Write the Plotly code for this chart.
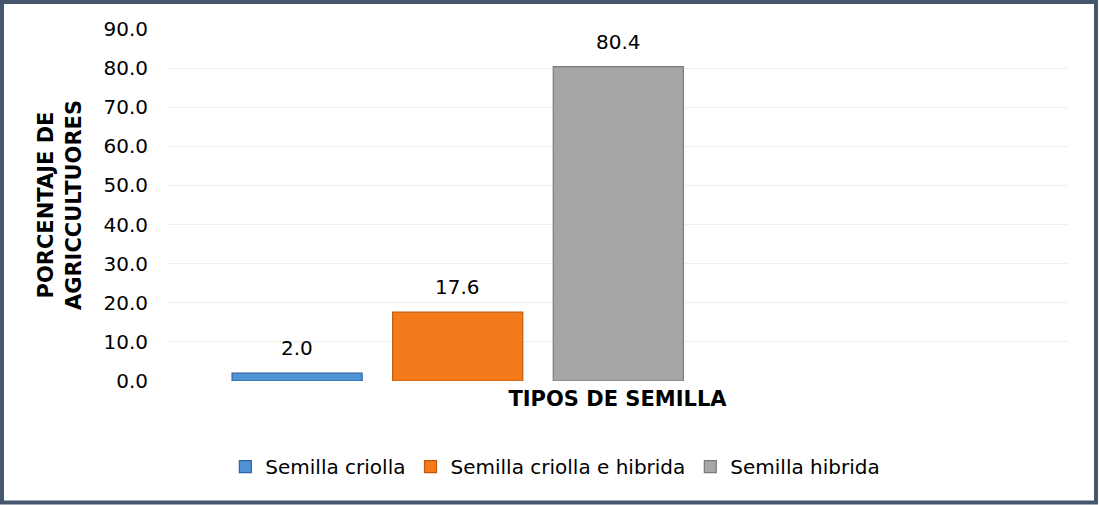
import plotly.graph_objects as go

# ── Data ─────────────────────────────────────────────────────────────────────
SERIES = ["Semilla criolla", "Semilla criolla e hibrida", "Semilla hibrida"]
VALUES = [2.0, 17.6, 80.4]
Y_TICKS = [0, 10, 20, 30, 40, 50, 60, 70, 80, 90]

# ── Style ────────────────────────────────────────────────────────────────────
FILLS = ["#4f93d6", "#f47b1c", "#a6a6a6"]
EDGES = ["#2f64a0", "#c05a0c", "#7a7a7a"]
BORDER = "#45566d"
GRID = "#efefef"
FONT = "DejaVu Sans, Arial, sans-serif"

fig = go.Figure()
for name, val, fill, edge in zip(SERIES, VALUES, FILLS, EDGES):
    fig.add_trace(go.Bar(
        x=[name], y=[val], name=name,
        width=0.81,
        marker=dict(color=fill, line=dict(color=edge, width=1.2)),
    ))
    fig.add_annotation(
        x=name, y=val, text=f"{val:.1f}",
        showarrow=False, yanchor="bottom", yshift=11,
        font=dict(family=FONT, size=20, color="#000000"),
    )

fig.update_layout(
    width=1099, height=505,
    paper_bgcolor="white", plot_bgcolor="white",
    font=dict(family=FONT, size=20, color="#000000"),
    margin=dict(l=167, r=31, t=29, b=124),
    barmode="overlay",
    showlegend=True,
    legend=dict(
        orientation="h",
        x=0.431, xanchor="center",
        y=-0.243, yanchor="middle",
        font=dict(family=FONT, size=20, color="#000000"),
        itemwidth=30,
        traceorder="normal",
    ),
    xaxis=dict(
        range=[-0.81, 4.80],
        showticklabels=False, showgrid=False, zeroline=False,
        showline=False, ticks="",
        title=dict(text="<b>TIPOS DE SEMILLA</b>", standoff=10,
                   font=dict(family=FONT, size=21, color="#000000")),
    ),
    yaxis=dict(
        range=[0, 90],
        tickvals=Y_TICKS, tickformat=".1f",
        showgrid=True, gridcolor=GRID, gridwidth=1,
        zeroline=False, showline=False, ticks="",
        ticklabelstandoff=18,
        tickfont=dict(family=FONT, size=20, color="#000000"),
        title=dict(text="<b>PORCENTAJE DE<br>AGRICCULTUORES</b>", standoff=16,
                   font=dict(family=FONT, size=21, color="#000000")),
    ),
    shapes=[dict(
        type="rect", xref="paper", yref="paper",
        x0=(2 - 167) / 901, x1=(1096 - 167) / 901,
        y0=(381 - 502.5) / 352, y1=(381 - 2) / 352,
        line=dict(color=BORDER, width=4), fillcolor="rgba(0,0,0,0)",
        layer="above",
    )],
)

# page body has a default 8px margin; drop it so the figure fills the window
fig.write_html(
    "out.html",
    config={"displayModeBar": False},
    post_script="document.body.style.margin='0';document.body.style.overflow='hidden';",
)
